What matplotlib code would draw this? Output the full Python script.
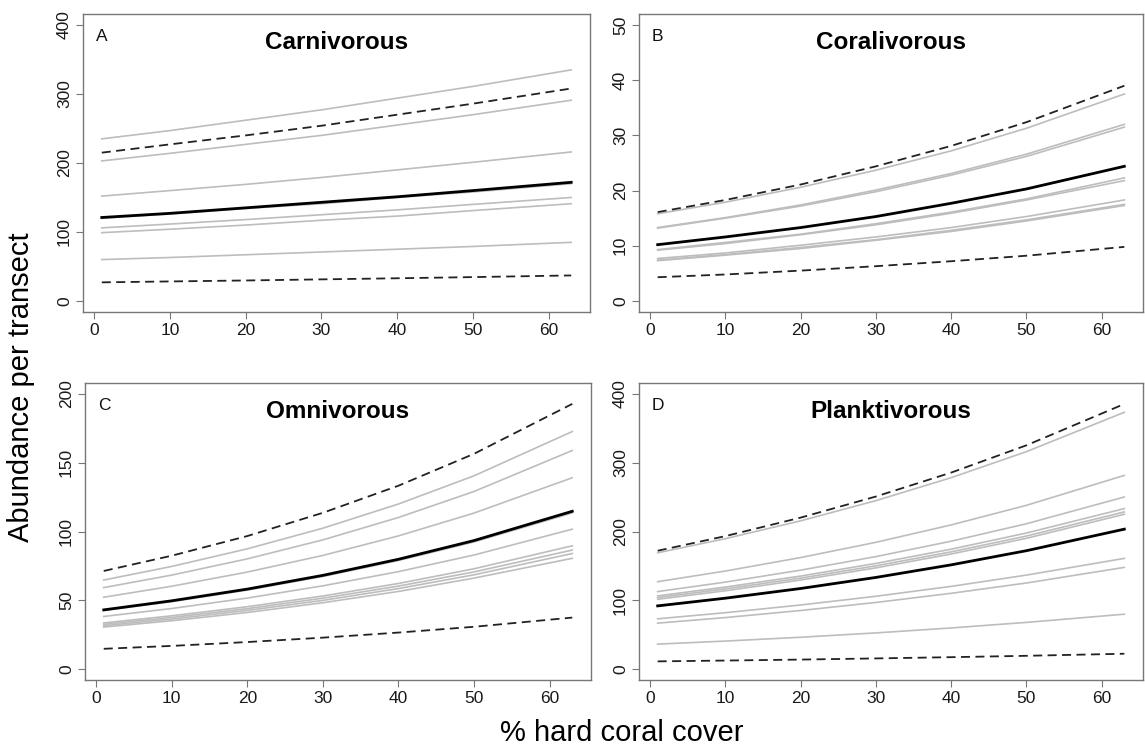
import numpy as np
import matplotlib
matplotlib.use("Agg")
import matplotlib.pyplot as plt

plt.rcParams['font.family'] = ['Liberation Sans', 'DejaVu Sans']

x = [1, 10, 20, 30, 40, 50, 63]

# A - Carnivorous
carn_gray = [
    [235, 247, 262, 277, 294, 311, 335],
    [203, 214, 227, 240, 255, 270, 291],
    [152, 160, 169, 179, 190, 201, 216],
    [120, 126, 134, 141, 150, 158, 170],
    [106, 111.5, 118, 125, 132, 140, 150],
    [99, 104, 110, 117, 123, 131, 141],
    [60, 63, 67, 71, 75, 79, 85],
]
carn_mean = [121, 127, 135, 143, 151, 160, 172]
carn_upper = [215, 227, 240, 254, 270, 286, 308]
carn_lower = [27, 28.3, 29.7, 31.3, 32.9, 34.6, 37]

# B - Coralivorous
cora_gray = [
    [15.8, 17.9, 20.6, 23.7, 27.2, 31.3, 37.5],
    [13.3, 15.1, 17.4, 20.1, 23.1, 26.6, 32.0],
    [13.2, 15.0, 17.2, 19.8, 22.8, 26.2, 31.5],
    [9.3, 10.6, 12.1, 14.0, 16.1, 18.5, 22.3],
    [9.2, 10.4, 12.0, 13.8, 15.9, 18.3, 21.8],
    [7.7, 8.7, 10.1, 11.6, 13.3, 15.3, 18.3],
    [7.4, 8.4, 9.7, 11.1, 12.8, 14.7, 17.5],
    [7.3, 8.3, 9.5, 11.0, 12.6, 14.5, 17.3],
]
cora_mean = [10.2, 11.6, 13.3, 15.3, 17.7, 20.3, 24.4]
cora_upper = [16.1, 18.3, 21.1, 24.4, 28.1, 32.4, 39.0]
cora_lower = [4.3, 4.8, 5.5, 6.3, 7.2, 8.2, 9.8]

# C - Omnivorous
omni_gray = [
    [64.7, 74.6, 87.4, 102.4, 120.0, 140.5, 172.7],
    [59.2, 68.3, 80.1, 93.9, 110.2, 129.1, 158.9],
    [52.2, 60.2, 70.5, 82.6, 96.8, 113.4, 139.1],
    [42.5, 49.0, 57.4, 67.3, 78.9, 92.4, 113.5],
    [38.2, 44.0, 51.6, 60.5, 70.8, 82.9, 101.7],
    [33.5, 38.7, 45.3, 53.1, 62.2, 72.9, 89.6],
    [32.5, 37.5, 43.9, 51.5, 60.3, 70.6, 86.5],
    [31.5, 36.3, 42.6, 49.9, 58.5, 68.5, 84.0],
    [30.5, 35.1, 41.1, 48.2, 56.4, 66.1, 80.5],
]
omni_mean = [43.0, 49.6, 58.1, 68.1, 79.8, 93.4, 114.7]
omni_upper = [71.3, 82.4, 96.7, 113.6, 133.3, 156.5, 192.8]
omni_lower = [14.7, 16.8, 19.6, 22.8, 26.5, 30.7, 37.4]

# D - Planktivorous
plank_gray = [
    [169, 189.6, 215.5, 244.9, 278.3, 316.2, 373.4],
    [127, 142.5, 162.1, 184.3, 209.6, 238.1, 281.6],
    [112.6, 126.4, 143.8, 163.5, 185.9, 211.3, 250.2],
    [106.3, 119.2, 135.2, 153.6, 174.3, 197.8, 233.3],
    [103.9, 116.5, 132.2, 150.1, 170.4, 193.4, 228.5],
    [101.4, 113.8, 129.4, 147.1, 167.3, 190.1, 225.1],
    [73.0, 81.9, 93.1, 105.8, 120.2, 136.6, 160.9],
    [66.7, 74.8, 85.1, 96.8, 110.1, 125.1, 147.8],
    [36.2, 40.6, 46.2, 52.5, 59.7, 67.8, 79.7],
]
plank_mean = [91.8, 103.0, 117.1, 133.2, 151.5, 172.1, 203.4]
plank_upper = [172, 193.3, 220.2, 250.9, 285.7, 325.4, 385.5]
plank_lower = [11.1, 12.3, 13.7, 15.4, 17.2, 19.2, 22.2]

titles = ['Carnivorous', 'Coralivorous', 'Omnivorous', 'Planktivorous']
letters = ['A', 'B', 'C', 'D']
ymax = [400, 50, 200, 400]
ystep = [100, 10, 50, 100]

panels = [
    (carn_gray, carn_mean, carn_upper, carn_lower),
    (cora_gray, cora_mean, cora_upper, cora_lower),
    (omni_gray, omni_mean, omni_upper, omni_lower),
    (plank_gray, plank_mean, plank_upper, plank_lower),
]

fig = plt.figure(figsize=(11.45, 7.49), dpi=100)

# axes boxes in pixels: left, right, top, bottom
W, H = 1145, 749
boxes = [(83, 590, 14, 312), (639, 1143, 14, 312),
         (85, 591, 383, 680), (639, 1143, 383, 680)]

spine_col = '#777777'
for i, (gray, mean, upper, lower) in enumerate(panels):
    l, r, t, b = boxes[i]
    ax = fig.add_axes([l / W, 1 - b / H, (r - l) / W, (b - t) / H])
    for g in gray:
        ax.plot(x, g, color='#bdbdbd', lw=1.2, zorder=2)
    ax.plot(x, upper, color='#222222', lw=1.3, dashes=(5, 3), zorder=3)
    ax.plot(x, lower, color='#222222', lw=1.3, dashes=(5, 3), zorder=3)
    ax.plot(x, mean, color='black', lw=2.0, zorder=4)

    # R style 4% padding
    xr = x[-1] - x[0]
    ax.set_xlim(x[0] - 0.04 * xr, x[-1] + 0.04 * xr)
    ax.set_ylim(-0.04 * ymax[i], ymax[i] * 1.04)
    ax.set_xticks(np.arange(0, 61, 10))
    ax.set_yticks(np.arange(0, ymax[i] + 1, ystep[i]))
    ax.tick_params(axis='both', direction='out', length=5, width=0.8,
                   color=spine_col, labelsize=12.5, labelcolor='#1a1a1a')
    ax.tick_params(axis='x', pad=3)
    ax.tick_params(axis='y', pad=3)
    for lab in ax.get_yticklabels():
        lab.set_rotation(90)
        lab.set_va('center')
    for s in ax.spines.values():
        s.set_color(spine_col)
        s.set_linewidth(1.0)

    ax.text(0.5, 0.905, titles[i], transform=ax.transAxes, ha='center',
            va='center', fontsize=17.5, fontweight='bold')
    ax.text(0.025, 0.925, letters[i], transform=ax.transAxes, ha='left',
            va='center', fontsize=12.5, color='#111111')

fig.text(0.018, 0.483, 'Abundance per transect', rotation=90, ha='center',
         va='center', fontsize=21)
fig.text(0.543, 0.022, '% hard coral cover', ha='center', va='center',
         fontsize=21)

fig.savefig('out.png', dpi=100, facecolor='white')
